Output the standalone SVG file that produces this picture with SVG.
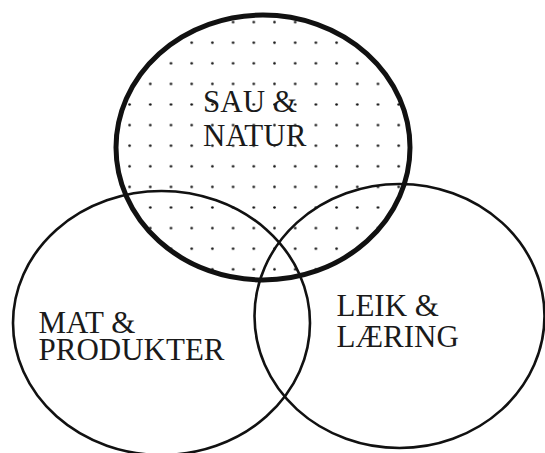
<svg xmlns="http://www.w3.org/2000/svg" width="545" height="453" viewBox="0 0 545 453">
  <style>
    .ring { fill: none; stroke: #111; stroke-width: 2.6; }
    .thick { fill: url(#dots); stroke: #111; stroke-width: 5; }
    .lbl { font-family: "Liberation Serif", "Times New Roman", serif; font-size: 31px; fill: #1a1a1a; }
  </style>
  <defs>
    <pattern id="dots" patternUnits="userSpaceOnUse" x="15.75" y="11.8" width="20.7" height="20.6">
      <circle cx="10.35" cy="10.3" r="1.3" fill="#111"/>
    </pattern>
  </defs>
  <rect width="545" height="453" fill="#fff"/>
  <g id="mat-produkter">
    <ellipse class="ring" cx="161.5" cy="323" rx="148.5" ry="132"/>
    <text class="lbl" x="38.5" y="333">MAT &amp;</text>
    <text class="lbl" x="38.5" y="360">PRODUKTER</text>
  </g>
  <g id="leik-laering">
    <ellipse class="ring" cx="399.5" cy="316" rx="145" ry="132"/>
    <text class="lbl" x="336.5" y="316">LEIK &amp;</text>
    <text class="lbl" x="336.5" y="347">LÆRING</text>
  </g>
  <g id="sau-natur">
    <ellipse class="thick" cx="263" cy="147.5" rx="147" ry="132.5"/>
    <text class="lbl" x="203" y="111.5">SAU &amp;</text>
    <text class="lbl" x="203" y="145.5">NATUR</text>
  </g>
  <g id="connectors"/>
</svg>
